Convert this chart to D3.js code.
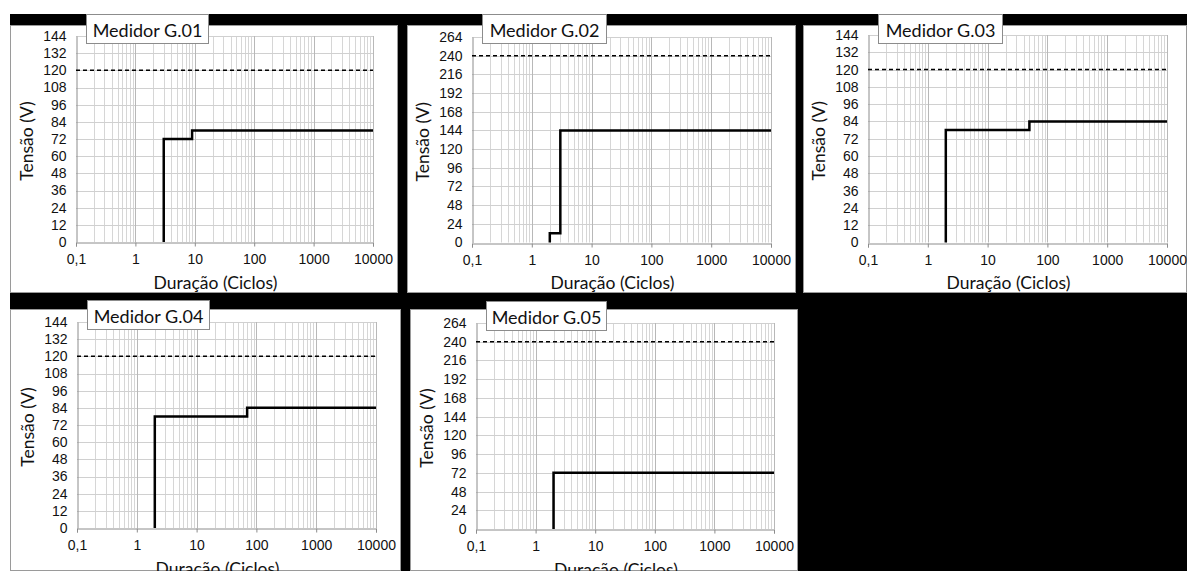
<!DOCTYPE html>
<html>
<head>
<meta charset="utf-8">
<script src="https://cdn.jsdelivr.net/npm/d3@7"></script>
<style>
  html, body { margin: 0; padding: 0; background: #fff; }
  svg { display: block; }
</style>
</head>
<body>
<svg id="chart" width="1187" height="571"></svg>
<script>
// Voltage-sag tolerance curves for five meters (G.01 .. G.05)
const meterNames = ["Medidor G.01", "Medidor G.02", "Medidor G.03", "Medidor G.04", "Medidor G.05"];
const yMaxValues = [144, 264, 144, 144, 264];
const yTickSteps = [12, 24, 12, 12, 24];
const nominalVoltage = [120, 240, 120, 120, 240];

const xTickValues = [0.1, 1, 10, 100, 1000, 10000];
const xTickLabels = ["0,1", "1", "10", "100", "1000", "10000"];

// step curves: duration (cycles) and voltage (V)
const g01Duration = [3, 3, 9, 9, 10000];
const g01Voltage  = [0, 72, 72, 78, 78];
const g02Duration = [2, 2, 3, 3, 10000];
const g02Voltage  = [0, 12, 12, 144, 144];
const g03Duration = [2, 2, 50, 50, 10000];
const g03Voltage  = [0, 78, 78, 84, 84];
const g04Duration = [2, 2, 70, 70, 10000];
const g04Voltage  = [0, 78, 78, 84, 84];
const g05Duration = [2, 2, 10000];
const g05Voltage  = [0, 72, 72];

const durations = [g01Duration, g02Duration, g03Duration, g04Duration, g05Duration];
const voltages  = [g01Voltage, g02Voltage, g03Voltage, g04Voltage, g05Voltage];

// panel frames and plot areas
const frames = [
  { x: 10,  y: 25,  w: 388, h: 268 },
  { x: 407, y: 25,  w: 389, h: 268 },
  { x: 803, y: 25,  w: 384, h: 268 },
  { x: 10,  y: 309, w: 391, h: 262 },
  { x: 410, y: 309, w: 388, h: 262 }
];
const plots = [
  { x0: 76,  x1: 373,  yt: 36,  yb: 242 },
  { x0: 472, x1: 771,  yt: 37,  yb: 242.5 },
  { x0: 868, x1: 1167, yt: 35,  yb: 242.5 },
  { x0: 77,  x1: 376,  yt: 322, yb: 528 },
  { x0: 476, x1: 774,  yt: 323, yb: 529 }
];
const titleBoxes = [
  { x: 86,  y: 14,  w: 122, h: 29 },
  { x: 482, y: 14,  w: 124, h: 29 },
  { x: 878, y: 14,  w: 124, h: 29 },
  { x: 87,  y: 300, w: 122, h: 29 },
  { x: 486, y: 301, w: 120, h: 29 }
];

const svg = d3.select("#chart");

// dark backdrop behind the panels
svg.append("rect").attr("x", 10).attr("y", 14).attr("width", 1177).attr("height", 557).attr("fill", "#000");

meterNames.forEach((name, i) => {
  const f = frames[i], p = plots[i];
  const g = svg.append("g");

  g.append("rect")
    .attr("x", f.x + 0.5).attr("y", f.y + 0.5)
    .attr("width", f.w - 1).attr("height", f.h - 1)
    .attr("fill", "#fff").attr("stroke", "#9a9a9a").attr("stroke-width", 1);

  const x = d3.scaleLog().domain([0.1, 10000]).range([p.x0, p.x1]);
  const y = d3.scaleLinear().domain([0, yMaxValues[i]]).range([p.yb, p.yt]);
  const yTicks = d3.range(0, yMaxValues[i] + 0.001, yTickSteps[i]);

  // minor vertical grid (2..9 in each decade)
  const minor = [];
  for (let d = 0.1; d < 10000; d *= 10) {
    for (let k = 2; k <= 9; k++) minor.push(+(d * k).toPrecision(3));
  }
  g.append("g").selectAll("line").data(minor).join("line")
    .attr("x1", d => Math.round(x(d)) + 0.5).attr("x2", d => Math.round(x(d)) + 0.5)
    .attr("y1", p.yt).attr("y2", p.yb)
    .attr("stroke", "#d6d6d6").attr("stroke-width", 1);

  // horizontal grid
  g.append("g").selectAll("line").data(yTicks.slice(1)).join("line")
    .attr("x1", p.x0).attr("x2", p.x1)
    .attr("y1", d => Math.round(y(d)) + 0.5).attr("y2", d => Math.round(y(d)) + 0.5)
    .attr("stroke", "#d0d0d0").attr("stroke-width", 1);

  // major vertical grid (decades)
  g.append("g").selectAll("line").data(xTickValues.slice(1)).join("line")
    .attr("x1", d => Math.round(x(d)) + 0.5).attr("x2", d => Math.round(x(d)) + 0.5)
    .attr("y1", p.yt).attr("y2", p.yb)
    .attr("stroke", "#b8b8b8").attr("stroke-width", 1);

  // axes
  const xAxis = d3.axisBottom(x).tickValues(xTickValues)
    .tickFormat((d, j) => xTickLabels[j]).tickSize(4).tickPadding(8);
  const xg = g.append("g").attr("transform", `translate(0,${Math.round(p.yb) + 0.5})`).call(xAxis);
  xg.select(".domain").attr("stroke", "#8c8c8c");
  xg.selectAll(".tick line").attr("stroke", "#8c8c8c");
  xg.selectAll("text").attr("font-family", "'Liberation Sans', Arial, sans-serif")
    .attr("font-size", 14).attr("fill", "#111");

  const yAxis = d3.axisLeft(y).tickValues(yTicks).tickSize(0).tickPadding(10);
  const yg = g.append("g").attr("transform", `translate(${Math.round(p.x0) + 0.5},0)`).call(yAxis);
  yg.select(".domain").attr("stroke", "#8c8c8c");
  yg.selectAll("text").attr("font-family", "'Liberation Sans', Arial, sans-serif")
    .attr("font-size", 14).attr("fill", "#111");

  // nominal voltage reference
  g.append("line")
    .attr("x1", p.x0).attr("x2", p.x1)
    .attr("y1", y(nominalVoltage[i])).attr("y2", y(nominalVoltage[i]))
    .attr("stroke", "#000").attr("stroke-width", 1.5).attr("stroke-dasharray", "4,3");

  // tolerance step curve
  const pts = durations[i].map((d, j) => [d, voltages[i][j]]);
  g.append("path")
    .attr("d", d3.line().x(d => x(d[0])).y(d => y(d[1]))(pts))
    .attr("fill", "none").attr("stroke", "#000").attr("stroke-width", 2.5)
    .attr("stroke-linejoin", "miter");

  // axis titles
  g.append("text")
    .attr("transform", `translate(${p.x0 - 50},${(p.yt + p.yb) / 2 + 2}) rotate(-90)`)
    .attr("text-anchor", "middle").attr("dominant-baseline", "central")
    .attr("font-family", "Lato, 'Open Sans', sans-serif").attr("font-size", 17.5)
    .attr("fill", "#111").text("Tensão (V)");

  g.append("text")
    .attr("x", (p.x0 + p.x1) / 2 - 9).attr("y", p.yb + 40)
    .attr("text-anchor", "middle").attr("dominant-baseline", "central")
    .attr("font-family", "Lato, 'Open Sans', sans-serif").attr("font-size", 17.5)
    .attr("fill", "#111").text("Duração (Ciclos)");

  // meter label box
  const b = titleBoxes[i];
  g.append("rect")
    .attr("x", b.x + 0.5).attr("y", b.y + 0.5).attr("width", b.w).attr("height", b.h)
    .attr("fill", "#fff").attr("stroke", "#8c8c8c").attr("stroke-width", 1);
  g.append("text")
    .attr("x", b.x + b.w / 2 + 0.5).attr("y", b.y + b.h / 2 + 1)
    .attr("text-anchor", "middle").attr("dominant-baseline", "central")
    .attr("font-family", "Lato, 'Open Sans', sans-serif").attr("font-size", 18)
    .attr("fill", "#111").text(name);
});
</script>
</body>
</html>
